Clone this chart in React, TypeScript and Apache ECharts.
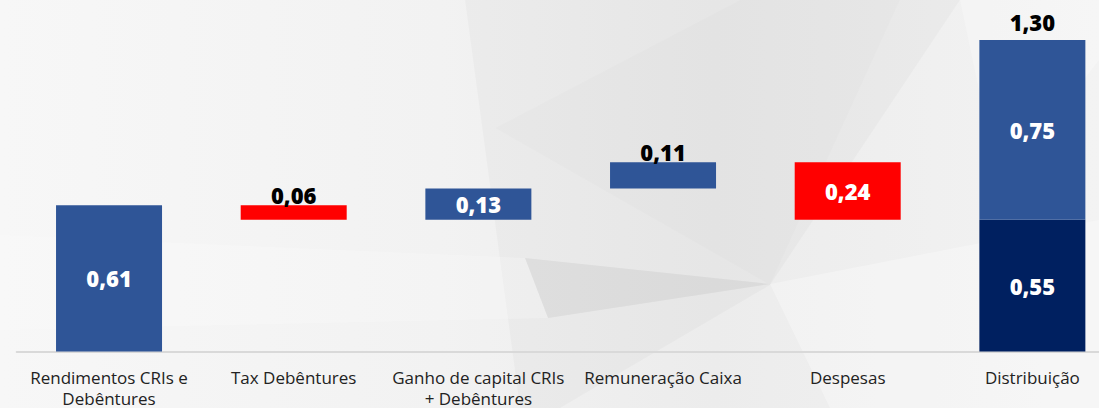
import React, { useEffect, useRef } from "react";
import * as echarts from "echarts";

const categories = [
  "Rendimentos CRIs e\nDebêntures",
  "Tax Debêntures",
  "Ganho de capital CRIs\n+ Debêntures",
  "Remuneração Caixa",
  "Despesas",
  "Distribuição",
];
// step kind: start, decrease, increase, end
const kinds = ["start", "decrease", "increase", "increase", "decrease", "end"];
const stepValues = [0.61, 0.06, 0.13, 0.11, 0.24, 0.55];
const distribuicaoExtra = [null, null, null, null, null, 0.75];
const distribuicaoTotal = [null, null, null, null, null, 1.3];

const BLUE = "#2f5597";
const RED = "#ff0000";
const NAVY = "#002060";

const fmt = (v: number) => v.toFixed(2).replace(".", ",");
const r2 = (v: number) => Math.round(v * 100) / 100;

function buildWaterfall() {
  const base: number[] = [];
  let running = 0;
  stepValues.forEach((v, i) => {
    const k = kinds[i];
    if (k === "start") {
      base.push(0);
      running = v;
    } else if (k === "increase") {
      base.push(r2(running));
      running = r2(running + v);
    } else if (k === "decrease") {
      running = r2(running - v);
      base.push(r2(running));
    } else {
      base.push(0);
    }
  });
  return base;
}

export default function App() {
  const ref = useRef<HTMLDivElement>(null);
  useEffect(() => {
    if (!ref.current) return;
    const chart = echarts.init(ref.current, undefined, { renderer: "svg" });
    const base = buildWaterfall();
    const labelFont = {
      fontFamily: "'Open Sans', sans-serif",
      fontWeight: 800 as any,
      fontSize: 22,
    };
    const stepData = stepValues.map((v, i) => {
      const k = kinds[i];
      const color = k === "decrease" ? RED : k === "end" ? NAVY : BLUE;
      const inside = v >= 0.12;
      return {
        value: v,
        itemStyle: { color },
        label: {
          show: true,
          position: inside ? "inside" : "top",
          distance: inside ? 5 : -1,
          color: inside ? "#ffffff" : "#000000",
          formatter: () => fmt(v),
          ...labelFont,
        },
      };
    });

    const W = 1099;
    const H = 408;
    chart.setOption({
      animation: false,
      backgroundColor: {
        type: "linear",
        x: 0,
        y: 0,
        x2: 1,
        y2: 0,
        colorStops: [
          { offset: 0, color: "#f7f7f7" },
          { offset: 0.4, color: "#f2f2f2" },
          { offset: 0.65, color: "#ececec" },
          { offset: 1, color: "#f3f3f3" },
        ],
      },
      graphic: [
        {
          type: "polygon",
          z: -10,
          silent: true,
          shape: { points: [[465, 0], [960, 0], [770, 285], [560, 408], [520, 408]] },
          style: { fill: "rgba(0,0,0,0.022)" },
        },
        {
          type: "polygon",
          z: -9,
          silent: true,
          shape: { points: [[495, 128], [740, 0], [900, 0], [770, 285]] },
          style: { fill: "rgba(0,0,0,0.012)" },
        },
        {
          type: "polygon",
          z: -8,
          silent: true,
          shape: { points: [[525, 258], [770, 284], [548, 318]] },
          style: { fill: "rgba(0,0,0,0.05)" },
        },
        {
          type: "polygon",
          z: -8,
          silent: true,
          shape: { points: [[0, 235], [525, 258], [548, 318], [0, 330]] },
          style: { fill: "rgba(255,255,255,0.2)" },
        },
        {
          type: "polygon",
          z: -8,
          silent: true,
          shape: { points: [[770, 284], [W, 220], [W, H], [830, H]] },
          style: { fill: "rgba(255,255,255,0.3)" },
        },
        {
          type: "polygon",
          z: -8,
          silent: true,
          shape: { points: [[960, 0], [W, 0], [W, 60], [1000, 190]] },
          style: { fill: "rgba(255,255,255,0.25)" },
        },
      ],
      grid: {
        left: 16.7,
        right: -25.7,
        top: 16,
        bottom: 56.5,
        containLabel: false,
        outerBoundsMode: "none",
      },
      xAxis: {
        type: "category",
        data: categories,
        axisTick: { show: false },
        axisLine: { show: true, lineStyle: { color: "#d9d9d9", width: 2 } },
        axisLabel: {
          interval: 0,
          margin: 15,
          color: "#222222",
          fontFamily: "'Open Sans', sans-serif",
          fontSize: 17,
          lineHeight: 21,
        },
      },
      yAxis: {
        type: "value",
        min: 0,
        max: 1.4,
        show: false,
        splitLine: { show: false },
      },
      series: [
        {
          type: "bar",
          stack: "w",
          barWidth: 106,
          silent: true,
          itemStyle: { color: "transparent" },
          data: base,
        },
        {
          type: "bar",
          stack: "w",
          barWidth: 106,
          data: stepData,
        },
        {
          type: "bar",
          stack: "w",
          barWidth: 106,
          itemStyle: { color: BLUE },
          label: {
            show: true,
            position: "inside",
            color: "#ffffff",
            formatter: (p: any) => fmt(p.value),
            ...labelFont,
          },
          data: distribuicaoExtra,
        },
        {
          type: "bar",
          stack: "w",
          barWidth: 106,
          itemStyle: { color: "transparent" },
          label: {
            show: true,
            position: "top",
            distance: 7,
            color: "#000000",
            formatter: (p: any) =>
              distribuicaoTotal[p.dataIndex] != null ? fmt(distribuicaoTotal[p.dataIndex] as number) : "",
            ...labelFont,
          },
          data: distribuicaoTotal.map((v) => (v != null ? 0.0001 : null)),
        },
      ],
    });
    return () => chart.dispose();
  }, []);
  return (
    <div
      ref={ref}
      style={{ position: "absolute", left: 0, top: 0, width: 1099, height: 408 }}
    />
  );
}
